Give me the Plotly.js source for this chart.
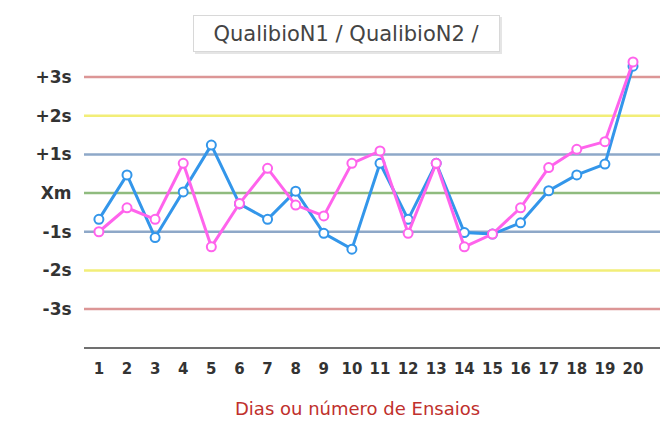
<!DOCTYPE html>
<html>
<head>
<meta charset="utf-8">
<script src="https://cdn.plot.ly/plotly-3.0.1.min.js"></script>
<style>html,body{margin:0;padding:0;background:#fff;}#chart{width:669px;height:421px;}</style>
</head>
<body>
<div id="chart"></div>
<script>
const ensaios = [1,2,3,4,5,6,7,8,9,10,11,12,13,14,15,16,17,18,19,20];
const qualibioN1 = [-0.68, 0.47, -1.15, 0.03, 1.24, -0.28, -0.68, 0.05, -1.04, -1.45, 0.77, -0.68, 0.77, -1.02, -1.06, -0.77, 0.06, 0.47, 0.75, 3.28];
const qualibioN2 = [-1.0, -0.38, -0.68, 0.77, -1.39, -0.27, 0.64, -0.31, -0.59, 0.77, 1.09, -1.04, 0.77, -1.39, -1.06, -0.38, 0.66, 1.13, 1.33, 3.39];
const limitValues = [3, 2, 1, 0, -1, -2, -3];
const limitLabels = ['+3s', '+2s', '+1s', 'Xm', '-1s', '-2s', '-3s'];
const limitColors = ['#dc9696', '#f2ee78', '#8ea8c8', '#8fbb7e', '#8ea8c8', '#f2ee78', '#dc9696'];
const seriesNames = ['QualibioN1', 'QualibioN2'];
const legendText = 'QualibioN1 / QualibioN2 /';
const xTitle = 'Dias ou número de Ensaios';

const shapes = limitValues.map((v, i) => ({
  type: 'line', xref: 'paper', x0: 0, x1: 1, yref: 'y', y0: v, y1: v,
  line: {color: limitColors[i], width: 2.5}, layer: 'below'
}));
// legend box shadow
shapes.push({type:'rect', xref:'paper', yref:'paper', x0:0.1927, x1:0.7257, y0:1.003, y1:1.130,
  line:{width:0}, fillcolor:'rgba(0,0,0,0.10)', layer:'above'});

const traces = [
  {x: ensaios, y: qualibioN1, name: seriesNames[0], type: 'scatter', mode: 'lines+markers',
   line: {color: '#3396ea', width: 3},
   marker: {size: 9, color: '#ffffff', line: {color: '#3396ea', width: 2}}},
  {x: ensaios, y: qualibioN2, name: seriesNames[1], type: 'scatter', mode: 'lines+markers',
   line: {color: '#ff63ec', width: 3},
   marker: {size: 9, color: '#ffffff', line: {color: '#ff63ec', width: 2}}}
];

const layout = {
  width: 669, height: 421,
  margin: {l: 84, r: 9, t: 55, b: 74},
  paper_bgcolor: '#ffffff', plot_bgcolor: '#ffffff',
  showlegend: false,
  xaxis: {
    range: [0.47, 20.96], tickmode: 'array', tickvals: ensaios, ticktext: ensaios.map(String),
    showgrid: false, zeroline: false, showline: true, linecolor: '#707070', linewidth: 2,
    ticks: 'outside', ticklen: 7, tickcolor: 'rgba(0,0,0,0)',
    tickfont: {family: 'DejaVu Sans', size: 15, color: '#333333', weight: 'bold'}
  },
  yaxis: {
    range: [-3.98, 3.57], tickmode: 'array', tickvals: limitValues, ticktext: limitLabels,
    showgrid: false, zeroline: false, showline: false,
    ticks: 'outside', ticklen: 8, tickcolor: 'rgba(0,0,0,0)',
    tickfont: {family: 'DejaVu Sans', size: 17, color: '#333333', weight: 'bold'}
  },
  shapes: shapes,
  annotations: [
    {text: legendText, xref: 'paper', yref: 'paper', x: 0.455, y: 1.075, xanchor: 'center', yanchor: 'middle',
     showarrow: false, font: {family: 'DejaVu Sans', size: 21, color: '#444444'},
     width: 305, height: 35, borderpad: 0,
     bgcolor: '#ffffff', bordercolor: '#d8d8d8', borderwidth: 1},
    {text: xTitle, xref: 'paper', yref: 'paper', x: 0.474, y: -0.209, xanchor: 'center', yanchor: 'middle',
     showarrow: false, font: {family: 'DejaVu Sans', size: 18, color: '#c0302c'}}
  ]
};

Plotly.newPlot('chart', traces, layout, {displayModeBar: false, staticPlot: true});
</script>
</body>
</html>
